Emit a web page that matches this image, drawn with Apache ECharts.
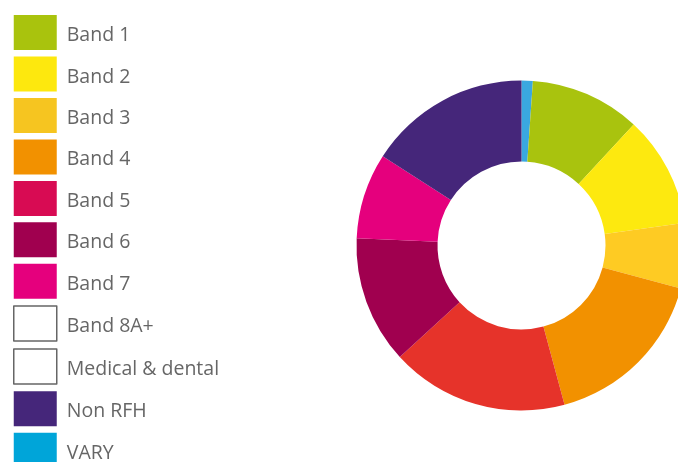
<!DOCTYPE html>
<html>
<head>
<meta charset="utf-8">
<script src="https://cdn.jsdelivr.net/npm/echarts@6/dist/echarts.min.js"></script>
<style>
  html, body { margin: 0; padding: 0; background: #ffffff; }
  #chart { width: 678px; height: 462px; }
</style>
</head>
<body>
<div id="chart"></div>
<script>
// Staff groups, in legend order
const categories = ['Band 1', 'Band 2', 'Band 3', 'Band 4', 'Band 5', 'Band 6', 'Band 7',
                    'Band 8A+', 'Medical & dental', 'Non RFH', 'VARY'];
// Share of total (%)
const shares = [10.8, 10.9, 6.4, 16.6, 17.4, 12.5, 8.4, 0, 0, 15.9, 1.1];
// Slice colours
const sliceColors = ['#a9c30e', '#fde90f', '#fecb23', '#f29100', '#e6332a', '#a0004f',
                     '#e5007d', '#ffffff', '#ffffff', '#45267a', '#3aa8e0'];
// Legend swatch colours
const keyColors = ['#a9c30d', '#fde80e', '#f6c520', '#f29100', '#d80b53', '#a0004f',
                   '#e5007d', '#ffffff', '#ffffff', '#45267a', '#00a5d9'];
// Ring drawn clockwise from 12 o'clock in this order
const ringOrder = ['VARY', 'Band 1', 'Band 2', 'Band 3', 'Band 4', 'Band 5', 'Band 6',
                   'Band 7', 'Band 8A+', 'Medical & dental', 'Non RFH'];

const chart = echarts.init(document.getElementById('chart'), null, { renderer: 'canvas' });

const legendData = categories.map((name, i) => {
  const hollow = keyColors[i] === '#ffffff';
  return {
    name: name,
    itemStyle: hollow
      ? { color: '#ffffff', borderColor: '#666666', borderWidth: 1.5 }
      : { color: keyColors[i], borderWidth: 0 }
  };
});

const pieData = ringOrder.map(name => {
  const i = categories.indexOf(name);
  return { name: name, value: shares[i], itemStyle: { color: sliceColors[i] } };
});

chart.setOption({
  animation: false,
  backgroundColor: '#ffffff',
  legend: {
    orient: 'vertical',
    left: 13,
    top: 15,
    width: 260,
    height: 480,
    padding: 0,
    itemWidth: 43,
    itemHeight: 35,
    itemGap: 6.47,
    icon: 'rect',
    selectedMode: false,
    data: legendData,
    formatter: '{t|{name}}',
    textStyle: {
      fontFamily: '"Open Sans", "Noto Sans", sans-serif',
      fontSize: 19.5,
      color: '#666666',
      rich: {
        t: {
          fontFamily: '"Open Sans", "Noto Sans", sans-serif',
          fontSize: 19.5,
          color: '#666666',
          padding: [6, 0, 0, 5]
        }
      }
    }
  },
  series: [{
    type: 'pie',
    center: [521.5, 245.5],
    radius: [84, 165],
    startAngle: 90,
    clockwise: true,
    avoidLabelOverlap: false,
    label: { show: false },
    labelLine: { show: false },
    emphasis: { disabled: true },
    itemStyle: { borderWidth: 0 },
    data: pieData
  }]
});
</script>
</body>
</html>
